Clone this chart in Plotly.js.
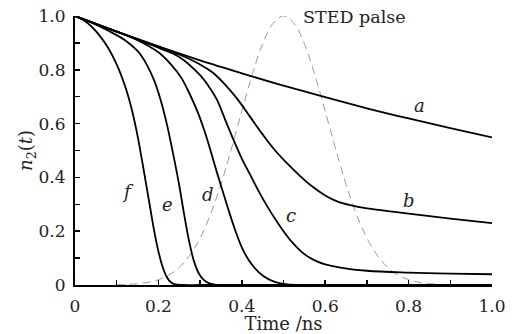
<!DOCTYPE html>
<html>
<head>
<meta charset="utf-8">
<script src="https://cdn.plot.ly/plotly-3.0.1.min.js"></script>
<style>html,body{margin:0;padding:0;background:#fff}#chart{width:512px;height:334px}</style>
</head>
<body>
<div id="chart"></div>
<script>
// Curve a
var tA = [0, 0.1, 0.2, 0.3, 0.4, 0.5, 0.6, 0.7, 0.8, 0.9, 1.0];
var nA = [1, 0.942, 0.887, 0.835, 0.787, 0.741, 0.698, 0.657, 0.619, 0.583, 0.549];
// Curve b
var tB = [0, 0.1, 0.2, 0.25, 0.3, 0.33, 0.36, 0.39, 0.42, 0.45, 0.48, 0.51, 0.54, 0.57, 0.6, 0.63, 0.66, 0.7, 0.75, 0.8, 0.9, 1.0];
var nB = [1, 0.942, 0.886, 0.857, 0.82, 0.79, 0.745, 0.69, 0.625, 0.56, 0.5, 0.45, 0.405, 0.365, 0.333, 0.31, 0.297, 0.285, 0.275, 0.265, 0.247, 0.23];
// Curve c
var tC = [0, 0.1, 0.2, 0.25, 0.3, 0.32, 0.34, 0.36, 0.38, 0.4, 0.42, 0.44, 0.46, 0.48, 0.5, 0.52, 0.54, 0.56, 0.58, 0.6, 0.64, 0.7, 0.8, 0.9, 1.0];
var nC = [1, 0.942, 0.882, 0.848, 0.78, 0.74, 0.69, 0.615, 0.54, 0.47, 0.41, 0.35, 0.295, 0.245, 0.2, 0.16, 0.128, 0.104, 0.088, 0.077, 0.064, 0.053, 0.046, 0.042, 0.04];
// Curve d
var tD = [0, 0.05, 0.1, 0.15, 0.2, 0.23, 0.255, 0.275, 0.295, 0.31, 0.325, 0.34, 0.355, 0.37, 0.385, 0.4, 0.415, 0.43, 0.45, 0.47, 0.49, 0.51, 0.54, 0.6, 0.8, 1.0];
var nD = [1, 0.97, 0.942, 0.91, 0.865, 0.82, 0.77, 0.71, 0.64, 0.575, 0.5, 0.42, 0.345, 0.27, 0.2, 0.14, 0.097, 0.065, 0.035, 0.017, 0.007, 0.002, 0, 0, 0, 0];
// Curve e
var tE = [0, 0.04, 0.08, 0.12, 0.15, 0.17, 0.19, 0.205, 0.22, 0.235, 0.25, 0.262, 0.274, 0.286, 0.298, 0.31, 0.322, 0.335, 0.35, 0.4, 0.6, 0.8, 1.0];
var nE = [1, 0.975, 0.945, 0.91, 0.87, 0.825, 0.76, 0.69, 0.60, 0.49, 0.37, 0.26, 0.16, 0.085, 0.04, 0.017, 0.006, 0.0015, 0.0003, 0, 0, 0, 0];
// Curve f
var tF = [0, 0.02, 0.04, 0.06, 0.08, 0.10, 0.12, 0.135, 0.148, 0.16, 0.17, 0.18, 0.19, 0.20, 0.21, 0.22, 0.23, 0.24, 0.26, 0.3, 0.6, 0.8, 1.0];
var nF = [1, 0.985, 0.96, 0.925, 0.88, 0.82, 0.74, 0.66, 0.57, 0.47, 0.38, 0.29, 0.20, 0.125, 0.068, 0.03, 0.01, 0.002, 0, 0, 0, 0, 0];
// STED pulse
var tP = [0.1, 0.125, 0.15, 0.175, 0.2, 0.225, 0.25, 0.275, 0.3, 0.325, 0.35, 0.375, 0.4, 0.425, 0.45, 0.475, 0.5,
          0.525, 0.55, 0.575, 0.6, 0.625, 0.65, 0.675, 0.7, 0.725, 0.75, 0.775, 0.8, 0.825, 0.85, 0.875, 0.9];
var nP = [0.0009, 0.0022, 0.0048, 0.010, 0.0196, 0.037, 0.065, 0.110, 0.174, 0.263, 0.374, 0.506, 0.646, 0.782, 0.897, 0.973, 1.0,
          0.973, 0.897, 0.782, 0.646, 0.506, 0.374, 0.263, 0.174, 0.110, 0.065, 0.037, 0.0196, 0.010, 0.0048, 0.0022, 0.0009];

var tickVals = [0, 0.2, 0.4, 0.6, 0.8, 1.0];
var tickText = ['0', '0.2', '0.4', '0.6', '0.8', '1.0'];

var curveLabels = ['a', 'b', 'c', 'd', 'e', 'f'];
var labelT = [0.825, 0.801, 0.518, 0.319, 0.223, 0.127];
var labelN = [0.669, 0.316, 0.26, 0.338, 0.30, 0.346];

var serif = 'DejaVu Serif, Liberation Serif, serif';
var blk = {color: '#000', width: 1.8, shape: 'spline', smoothing: 1};

function curve(x, y, name) {
  return {x: x, y: y, name: name, type: 'scatter', mode: 'lines', line: blk, hoverinfo: 'skip'};
}

var traces = [
  {x: tP, y: nP, name: 'STED palse', type: 'scatter', mode: 'lines',
   line: {color: '#9a9a9a', width: 1, dash: '8px,5px', shape: 'spline'}, hoverinfo: 'skip'},
  curve(tA, nA, 'a'), curve(tB, nB, 'b'), curve(tC, nC, 'c'),
  curve(tD, nD, 'd'), curve(tE, nE, 'e'), curve(tF, nF, 'f')
];

var annotations = curveLabels.map(function (s, i) {
  return {x: labelT[i], y: labelN[i], xref: 'x', yref: 'y', text: '<i>' + s + '</i>',
          showarrow: false, font: {family: serif, size: 18, color: '#222'}};
});
annotations.push({x: 0.542, y: 0.996, xref: 'x', yref: 'y', xanchor: 'left', yanchor: 'middle',
  text: 'STED palse', showarrow: false, font: {family: serif, size: 17.5, color: '#222'}});

var axisCommon = {
  range: [0, 1], tickvals: tickVals, ticktext: tickText,
  showline: true, linecolor: '#000', linewidth: 2, mirror: false,
  ticks: 'inside', ticklen: 5, tickwidth: 1.5, tickcolor: '#000',
  minor: {dtick: 0.1, tick0: 0, ticks: 'inside', ticklen: 5, tickwidth: 1.5, tickcolor: '#000'},
  showgrid: false, zeroline: false,
  tickfont: {family: serif, size: 17, color: '#222'}
};

var layout = {
  width: 512, height: 334,
  margin: {l: 75, r: 20, t: 16, b: 49},
  paper_bgcolor: '#fff', plot_bgcolor: '#fff',
  showlegend: false,
  xaxis: Object.assign({}, axisCommon, {
    title: {text: 'Time /ns', font: {family: serif, size: 18, color: '#222'}, standoff: 0},
    ticklabelstandoff: 5
  }),
  yaxis: Object.assign({}, axisCommon, {
    title: {text: '<i>n</i><sub>2</sub>(<i>t</i>)', font: {family: serif, size: 18, color: '#222'}, standoff: 0},
    ticklabelstandoff: 4
  }),
  annotations: annotations
};

Plotly.newPlot('chart', traces, layout, {displayModeBar: false, staticPlot: true});
</script>
</body>
</html>
